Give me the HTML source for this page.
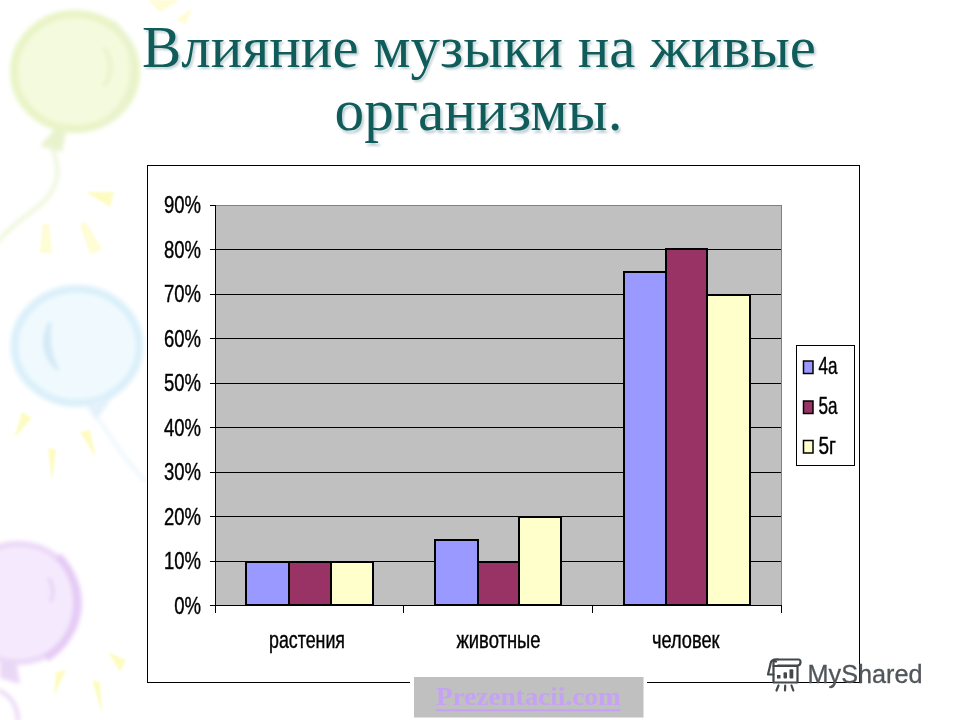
<!DOCTYPE html>
<html lang="ru">
<head>
<meta charset="utf-8">
<title>Влияние музыки на живые организмы</title>
<style>
html,body{margin:0;padding:0;background:#fff;}
body{width:960px;height:720px;overflow:hidden;position:relative;}
svg{position:absolute;left:0;top:0;display:block;}
.serif{font-family:"Liberation Serif",serif;}
.sans{font-family:"Liberation Sans",sans-serif;}
</style>
</head>
<body>
<svg width="960" height="720" viewBox="0 0 960 720">
<defs>
<filter id="b2" x="-20%" y="-20%" width="140%" height="140%"><feGaussianBlur stdDeviation="2"/></filter>
<filter id="b1" x="-20%" y="-20%" width="140%" height="140%"><feGaussianBlur stdDeviation="1.2"/></filter>
<filter id="ts" x="-5%" y="-20%" width="110%" height="150%"><feGaussianBlur stdDeviation="1.1"/></filter>
</defs>
<rect width="960" height="720" fill="#ffffff"/>

<!-- BALLOONS -->
<g id="balloons">
<g filter="url(#b2)">
<!-- green balloon -->
<ellipse cx="75" cy="71.500" rx="61" ry="57.500" fill="#f4fadd" stroke="#e8f4c6" stroke-width="8"/>
<path d="M112 22 C142 50 142 100 100 124" fill="none" stroke="#e8f3cd" stroke-width="6"/>
<path d="M56 128 L40 146 L62 152 L66 132 Z" fill="#e8f3cd"/>
<path d="M52 148 C62 170 58 190 40 205 C25 217 8 228 -2 242" fill="none" stroke="#edf6d9" stroke-width="4"/>
<path d="M104 86 C113 74 112 58 104 48" fill="none" stroke="#e4f0c6" stroke-width="3"/>
<!-- blue balloon -->
<ellipse cx="77" cy="346" rx="62.500" ry="57" fill="#f0fafe" stroke="#dbf0fa" stroke-width="8"/>
<path d="M50 322 C40 340 44 358 58 370 C50 356 48 340 50 322 Z" fill="#d3e9f6" stroke="#d3e9f6" stroke-width="3"/>
<path d="M92 402 L112 398 L96 420 L88 408 Z" fill="#e3f1fa"/>
<path d="M98 418 C112 440 125 460 146 482" fill="none" stroke="#eaf5fb" stroke-width="3"/>
<!-- purple balloon -->
<ellipse cx="18" cy="603" rx="61" ry="59" fill="#f5eafd" stroke="#ecd8f8" stroke-width="6"/>
<path d="M58 556 C86 585 84 634 46 658" fill="none" stroke="#e5caf5" stroke-width="8"/>
<path d="M0 662 L16 660 L20 684 L0 678 Z" fill="#ead7f6"/>
<path d="M-2 690 C12 696 18 708 18 722" fill="none" stroke="#ead7f6" stroke-width="4"/>
<path d="M48 578 C54 585 54 596 50 602" fill="none" stroke="#e4ccf3" stroke-width="3"/>
</g>
<g filter="url(#b1)" fill="#fdfbb8" opacity="0.85">
<path d="M86 192 L114 192 L110 207 Z"/>
<path d="M43 224 L49 224 L52 253 L40 253 Z" opacity=".7"/>
<path d="M80 225 L86 222 L102 250 L90 254 Z" opacity=".7"/>
<path d="M148 0 L180 0 L160 12 Z" opacity=".7"/>
<path d="M176 20 L192 8 L186 24 Z" opacity=".7"/>
<path d="M22 412 L32 418 L14 438 Z"/>
<path d="M48 448 L56 450 L52 482 Z"/>
<path d="M80 432 L90 430 L96 458 Z"/>
<path d="M108 652 L126 660 L120 672 Z"/>
<path d="M56 672 L66 670 L54 696 Z"/>
<path d="M92 680 L100 682 L102 714 Z"/>
</g>
</g>

<!-- TITLE -->
<g class="serif" font-size="58.5">
<g fill="#c2d2d5" filter="url(#ts)">
<text x="144" y="69" textLength="674" lengthAdjust="spacingAndGlyphs">Влияние музыки на живые</text>
<text x="336.500" y="132.500" textLength="288" lengthAdjust="spacingAndGlyphs">организмы.</text>
</g>
<g fill="#0f5c5b">
<text x="142" y="66.900" textLength="674" lengthAdjust="spacingAndGlyphs">Влияние музыки на живые</text>
<text x="334.500" y="130.300" textLength="288" lengthAdjust="spacingAndGlyphs">организмы.</text>
</g>
</g>

<!-- CHART -->
<g id="chart" shape-rendering="crispEdges">
<rect x="147.5" y="165.5" width="712" height="517" fill="#ffffff" stroke="#000" stroke-width="1"/>
<rect x="215" y="205" width="566" height="401" fill="#c0c0c0"/>
<path d="M215 205.5H781.5V606" fill="none" stroke="#808080" stroke-width="1"/>
<g stroke="#000" stroke-width="1">
<path d="M210 249.5H781M210 294.5H781M210 338.5H781M210 383.5H781M210 427.5H781M210 472.5H781M210 516.5H781M210 561.5H781M210 205.5H215"/>
</g>
</g>
<g id="bars" stroke="#000" stroke-width="2" shape-rendering="crispEdges">
<rect x="246" y="562" width="43" height="43" fill="#9999ff"/>
<rect x="289" y="562" width="42" height="43" fill="#993366"/>
<rect x="331" y="562" width="42" height="43" fill="#ffffcc"/>
<rect x="435" y="540" width="43" height="65" fill="#9999ff"/>
<rect x="478" y="562" width="41" height="43" fill="#993366"/>
<rect x="519" y="517" width="42" height="88" fill="#ffffcc"/>
<rect x="624" y="272" width="42" height="333" fill="#9999ff"/>
<rect x="666" y="249" width="41" height="356" fill="#993366"/>
<rect x="707" y="295" width="43" height="310" fill="#ffffcc"/>
</g>
<g stroke="#000" stroke-width="1" shape-rendering="crispEdges">
<path d="M215.5 205V613M210 605.5H781M403.5 605V613M592.5 605V613M781.5 605V613" fill="none"/>
</g>

<!-- AXIS LABELS -->
<g class="sans" font-size="24" fill="#000" stroke="#000" stroke-width="0.4" text-anchor="end">
<text x="201" y="213" textLength="37" lengthAdjust="spacingAndGlyphs">90%</text>
<text x="201" y="257.500" textLength="37" lengthAdjust="spacingAndGlyphs">80%</text>
<text x="201" y="302" textLength="37" lengthAdjust="spacingAndGlyphs">70%</text>
<text x="201" y="346.500" textLength="37" lengthAdjust="spacingAndGlyphs">60%</text>
<text x="201" y="391" textLength="37" lengthAdjust="spacingAndGlyphs">50%</text>
<text x="201" y="435.500" textLength="37" lengthAdjust="spacingAndGlyphs">40%</text>
<text x="201" y="480" textLength="37" lengthAdjust="spacingAndGlyphs">30%</text>
<text x="201" y="524.500" textLength="37" lengthAdjust="spacingAndGlyphs">20%</text>
<text x="201" y="569" textLength="37" lengthAdjust="spacingAndGlyphs">10%</text>
<text x="201" y="613.500" textLength="26.8" lengthAdjust="spacingAndGlyphs">0%</text>
</g>
<g class="sans" font-size="24.3" fill="#000" stroke="#000" stroke-width="0.4">
<text x="269" y="648.3" textLength="76" lengthAdjust="spacingAndGlyphs">растения</text>
<text x="456.5" y="648.3" textLength="84" lengthAdjust="spacingAndGlyphs">животные</text>
<text x="652" y="648.3" textLength="67.5" lengthAdjust="spacingAndGlyphs">человек</text>
</g>

<!-- LEGEND -->
<g shape-rendering="crispEdges">
<rect x="796.5" y="345.5" width="58" height="120" fill="#fff" stroke="#000" stroke-width="1"/>
<rect x="803.5" y="361" width="9.5" height="12.5" shape-rendering="auto" fill="#9999ff" stroke="#000" stroke-width="1.5"/>
<rect x="803.5" y="401" width="9.5" height="12.5" shape-rendering="auto" fill="#993366" stroke="#000" stroke-width="1.5"/>
<rect x="803.5" y="440.5" width="9.5" height="12.5" shape-rendering="auto" fill="#ffffcc" stroke="#000" stroke-width="1.5"/>
</g>
<g class="sans" font-size="24" fill="#000" stroke="#000" stroke-width="0.4">
<text x="818.5" y="373.500" textLength="19" lengthAdjust="spacingAndGlyphs">4а</text>
<text x="818.5" y="413.500" textLength="19" lengthAdjust="spacingAndGlyphs">5а</text>
<text x="818.5" y="453.800" textLength="17.5" lengthAdjust="spacingAndGlyphs">5г</text>
</g>

<!-- PREZENTACII LABEL -->
<rect x="410" y="672" width="237" height="48" fill="#ffffff"/>
<rect x="414" y="677" width="229.500" height="40.500" fill="#c0c0c0"/>
<text class="serif" x="528.3" y="705.2" font-size="24.3" font-weight="bold" fill="#c5a2f3" text-anchor="middle" textLength="184.5" lengthAdjust="spacingAndGlyphs">Prezentacii.com</text>
<rect x="436" y="709.3" width="184.5" height="1.9" fill="#c5a2f3"/>

<!-- MYSHARED -->
<g id="myshared">
<g fill="none" stroke="#434949" stroke-width="2.2" stroke-linejoin="round" stroke-linecap="round">
<path d="M773.5 666 H797.5 V682.5 H773.500 Z"/>
<path d="M778 659.500 H798.500 Q800.500 659.500 800.500 662 Q800.500 665.500 797.500 665.500 H778"/>
<path d="M778 659.500 Q771 659 770.500 664 L768 674.500 H773.500"/>
<path d="M773.5 666 V662.500 Q773.800 660 776 661.500"/>
<path d="M778.500 685.500 L776.500 690.500 M785.200 685.500 L785 690.500 M791.500 685.500 L793.300 690.500"/>
</g>
<g fill="#434949">
<rect x="777" y="675" width="3.5" height="3.5"/>
<rect x="783.500" y="672.300" width="3.5" height="6.200" rx="1"/>
<rect x="789.500" y="669.300" width="3.8" height="9.200" rx="1"/>
</g>
<text class="sans" x="807.5" y="683" font-size="25" fill="#50565a" stroke="#50565a" stroke-width="0.3" textLength="115" lengthAdjust="spacingAndGlyphs">MyShared</text>
</g>
</svg>
</body>
</html>
